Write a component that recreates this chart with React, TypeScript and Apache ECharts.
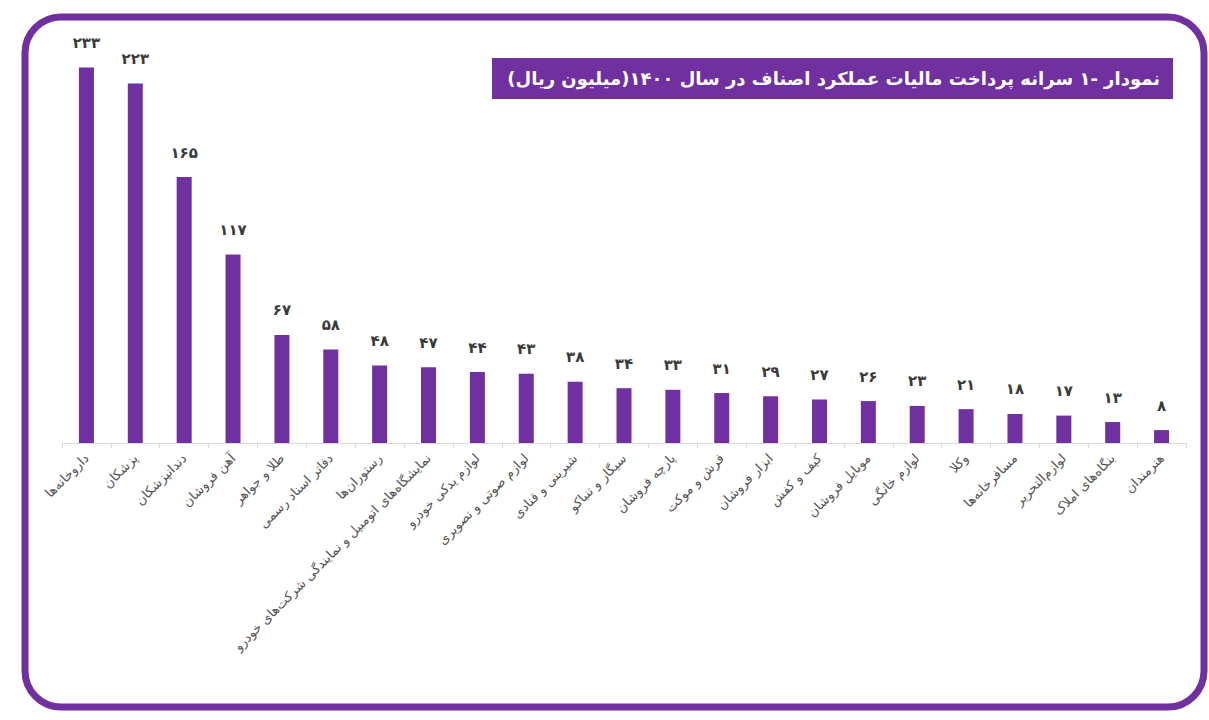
import React, { useEffect, useRef } from "react";
import * as echarts from "echarts";

const categories = [
  "داروخانه‌ها",
  "پزشکان",
  "دندانپزشکان",
  "آهن فروشان",
  "طلا و جواهر",
  "دفاتر اسناد رسمی",
  "رستوران‌ها",
  "نمایشگاه‌های اتومبیل و نمایندگی شرکت‌های خودرو",
  "لوازم یدکی خودرو",
  "لوازم صوتی و تصویری",
  "شیرینی و قنادی",
  "سیگار و تنباکو",
  "پارچه فروشان",
  "فرش و موکت",
  "ابزار فروشان",
  "کیف و کفش",
  "موبایل فروشان",
  "لوازم خانگی",
  "وکلا",
  "مسافرخانه‌ها",
  "لوازم‌التحریر",
  "بنگاه‌های املاک",
  "هنرمندان",
];

const values = [233, 223, 165, 117, 67, 58, 48, 47, 44, 43, 38, 34, 33, 31, 29, 27, 26, 23, 21, 18, 17, 13, 8];

const title = "نمودار -۱ سرانه پرداخت مالیات عملکرد اصناف در سال ۱۴۰۰(میلیون ریال)";

const PURPLE = "#7030a0";
const FONT = "'DejaVu Sans', sans-serif";

const toPersian = (n: number | string) =>
  String(n).replace(/[0-9]/g, (d) => "۰۱۲۳۴۵۶۷۸۹"[Number(d)]);

export default function App() {
  const ref = useRef<HTMLDivElement>(null);
  useEffect(() => {
    if (!ref.current) return;
    const chart = echarts.init(ref.current, undefined, { renderer: "svg" });
    chart.setOption({
      animation: false,
      backgroundColor: "#ffffff",
      grid: { left: 62, right: 23, top: 40, bottom: 277, containLabel: false },
      xAxis: {
        type: "category",
        data: categories,
        axisLine: { lineStyle: { color: "#d9d9d9", width: 1 } },
        axisTick: { show: true, length: 5, lineStyle: { color: "#d9d9d9" } },
        axisLabel: {
          rotate: 45,
          interval: 0,
          margin: 13,
          color: "#555555",
          fontSize: 13,
          fontFamily: FONT,
        },
      },
      yAxis: {
        type: "value",
        min: 0,
        max: 250,
        show: false,
        splitLine: { show: false },
      },
      series: [
        {
          type: "bar",
          data: values,
          barWidth: 15,
          itemStyle: { color: PURPLE },
          label: {
            show: true,
            position: "top",
            distance: 17,
            color: "#3a3a3a",
            fontSize: 15,
            fontWeight: "bold",
            fontFamily: FONT,
            formatter: (p: any) => toPersian(p.value),
          },
        },
      ],
      graphic: [
        {
          type: "rect",
          shape: { x: 25, y: 17, width: 1179, height: 690, r: 36 },
          style: { fill: "none", stroke: PURPLE, lineWidth: 7 },
          silent: true,
        },
        {
          type: "rect",
          shape: { x: 492, y: 58, width: 681, height: 41 },
          style: { fill: PURPLE },
          z: 10,
        },
        {
          type: "text",
          x: 1160,
          y: 78.5,
          z: 11,
          style: {
            text: "\u200F" + title + "\u200F",
            fill: "#ffffff",
            fontSize: 18,
            fontWeight: "bold",
            fontFamily: FONT,
            align: "right",
            verticalAlign: "middle",
          },
        },
      ],
    });
    return () => chart.dispose();
  }, []);
  return (
    <div
      ref={ref}
      style={{ position: "absolute", left: 0, top: 0, width: 1209, height: 720 }}
    />
  );
}
